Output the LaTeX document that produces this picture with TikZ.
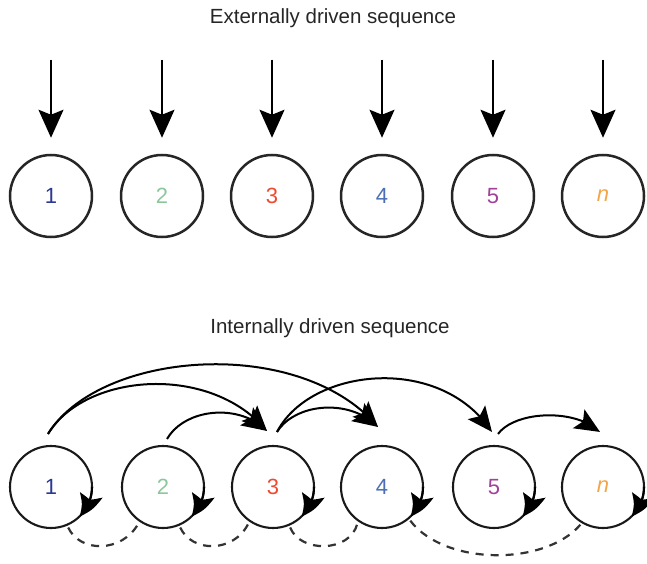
\documentclass[tikz,border=0pt]{standalone}
\usepackage{fontspec}
\setmainfont{Liberation Sans}
\usetikzlibrary{arrows.meta,bending}
\definecolor{cone}{HTML}{2B3990}
\definecolor{ctwo}{HTML}{8CC79B}
\definecolor{cthree}{HTML}{EE4A30}
\definecolor{cfour}{HTML}{4A6FB5}
\definecolor{cfive}{HTML}{A2409A}
\definecolor{csix}{HTML}{F3A54A}
\begin{document}
\begin{tikzpicture}[x=1pt,y=1pt,
  title/.style={font=\fontsize{20.5}{24}\selectfont, text=black!85},
  topcirc/.style={circle, draw=black!85, line width=2.5pt, minimum size=82pt, inner sep=0pt, font=\fontsize{22}{24}\selectfont},
  botcirc/.style={circle, draw=black!90, line width=2.1pt, minimum size=82pt, inner sep=0pt, font=\fontsize{22}{24}\selectfont},
  downarrow/.style={line width=1.9pt, -{Stealth[length=28pt,width=25pt,inset=5pt]}},
  curvearrow/.style={line width=2pt, -{Stealth[length=25pt,width=22pt,inset=5pt]}},
  loopearrow/.style={line width=2.1pt, -{Stealth[length=25pt,width=23pt,inset=5pt,bend]}},
  dasharc/.style={line width=2.2pt, dash pattern=on 8pt off 7pt, black!80}
]
\useasboundingbox (0,0) rectangle (647,563);

% titles
\node[title] (t1) at (333,545) {Externally driven sequence};
\node[title] (t2) at (330,235) {Internally driven sequence};

% top row
\node[topcirc, text=cone]   (a1) at (51,367)  {1};
\node[topcirc, text=ctwo]   (a2) at (162,367) {2};
\node[topcirc, text=cthree] (a3) at (272,367) {3};
\node[topcirc, text=cfour]  (a4) at (382,367) {4};
\node[topcirc, text=cfive]  (a5) at (493,367) {5};
\node[topcirc, text=csix]   (a6) at (603,367) {\textit{n}};

\foreach \i in {1,...,6}{
  \coordinate (s\i) at ([yshift=94pt]a\i.north);
  \draw[downarrow] (s\i) -- ([yshift=16pt]a\i.north);
}

% bottom row
\node[botcirc, text=cone]   (b1) at (51,76)  {1};
\node[botcirc, text=ctwo]   (b2) at (163,76) {2};
\node[botcirc, text=cthree] (b3) at (273,76) {3};
\node[botcirc, text=cfour]  (b4) at (382,76) {4};
\node[botcirc, text=cfive]  (b5) at (494,76) {5};
\node[botcirc, text=csix]   (b6) at (603,76) {\textit{n}};

% self-loop arrowheads
\foreach \i in {1,...,6}{
  \draw[loopearrow] ([shift={(0:41pt)}]b\i.center) arc[start angle=0, end angle=-46, radius=41pt];
}

% dashed links
\draw[dasharc] ([shift={(-67:44pt)}]b1.center) .. controls (80,10) and (122,10) .. ([shift={(-124:44pt)}]b2.center);
\draw[dasharc] ([shift={(-67:44pt)}]b2.center) .. controls (192,10) and (234,10) .. ([shift={(-124:44pt)}]b3.center);
\draw[dasharc] ([shift={(-67:44pt)}]b3.center) .. controls (300,10) and (350,10) .. ([shift={(-124:44pt)}]b4.center);
\draw[dasharc] ([shift={(-50:44pt)}]b4.center) .. controls (445,-3) and (545,-3) .. ([shift={(-121:44pt)}]b6.center);

% curved arrows
\coordinate (p1) at ([shift={(-3,11)}]b1.north);
\coordinate (p2) at ([shift={(4,6)}]b2.north);
\coordinate (p3) at ([shift={(4,13)}]b3.north);
\coordinate (p5) at ([shift={(4,11)}]b5.north);
\coordinate (q3) at ([shift={(-6,14)}]b3.north);
\coordinate (q4) at ([shift={(-4,18)}]b4.north);
\coordinate (q5) at ([shift={(-2,13)}]b5.north);
\coordinate (q6) at ([shift={(-3,13)}]b6.north);

\draw[curvearrow] (p1) .. controls (100,213) and (300,228) .. (q4);
\draw[curvearrow] (p1) .. controls (85,190) and (210,200) .. (q3);
\draw[curvearrow] (p2) .. controls (185,155) and (240,160) .. (q3);
\draw[curvearrow] (p3) .. controls (295,160) and (350,165) .. (q4);
\draw[curvearrow] (p3) .. controls (310,195) and (440,210) .. (q5);
\draw[curvearrow] (p5) .. controls (515,152) and (575,155) .. (q6);
\end{tikzpicture}
\end{document}
